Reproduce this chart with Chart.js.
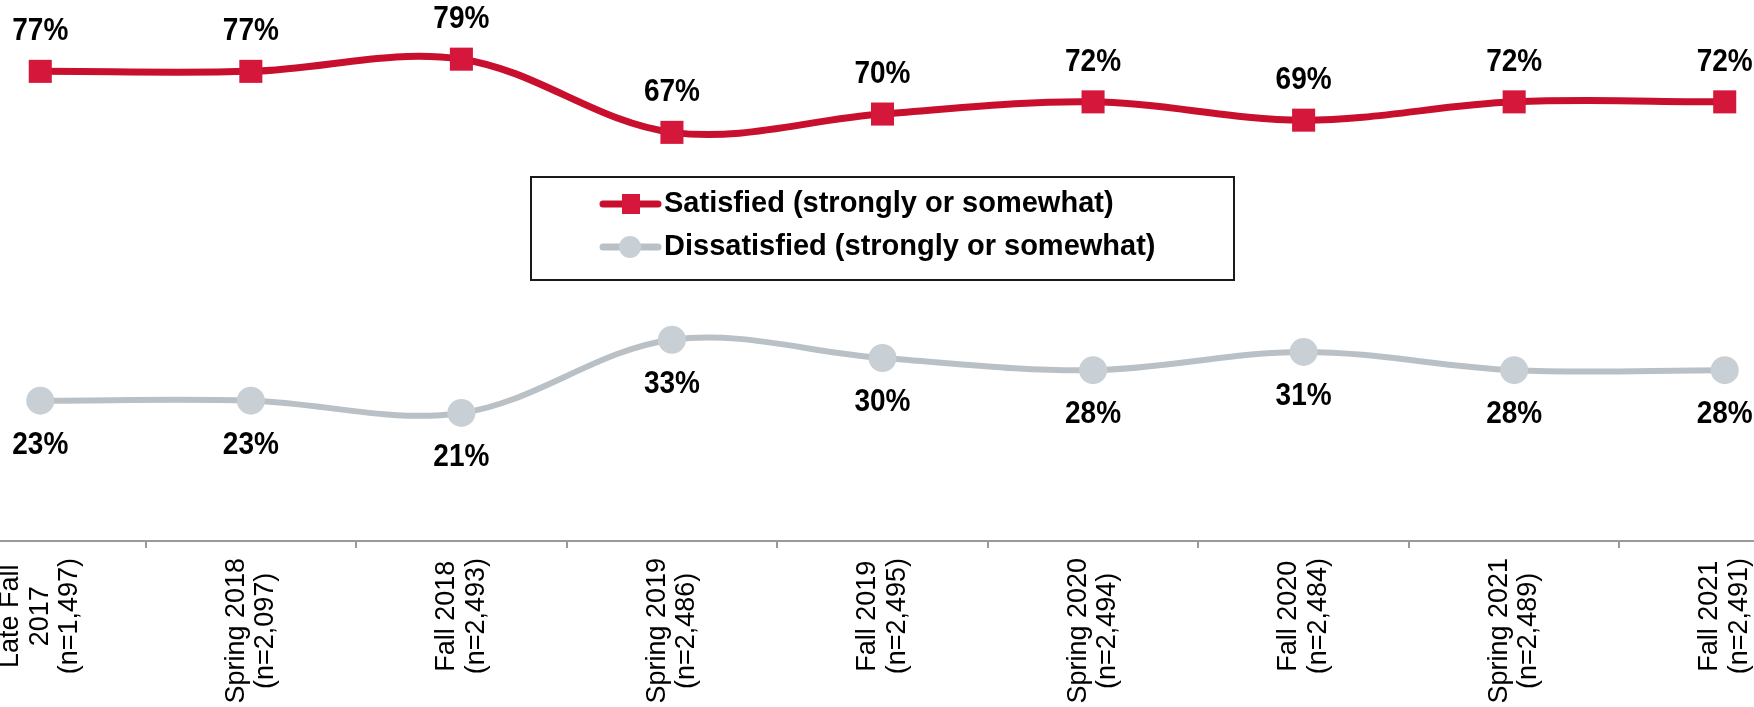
<!DOCTYPE html>
<html>
<head>
<meta charset="utf-8">
<script src="https://cdn.jsdelivr.net/npm/chart.js@4.4.0/dist/chart.umd.min.js"></script>
<style>
  html, body { margin: 0; padding: 0; background: #fff; overflow: hidden; }
  #wrap { position: relative; width: 1754px; height: 707px; overflow: hidden; }
  /* the first and last categories are cut by the frame, so the canvas is wider than the page */
  #surveyChart { position: absolute; left: -65px; top: 0; }
</style>
</head>
<body>
<div id="wrap"><canvas id="surveyChart" width="1895" height="707"></canvas></div>
<script>
// Survey waves (x categories)
const waves = [
    ['Late Fall', '2017', '(n=1,497)'],
    ['Spring 2018', '(n=2,097)'],
    ['Fall 2018', '(n=2,493)'],
    ['Spring 2019', '(n=2,486)'],
    ['Fall 2019', '(n=2,495)'],
    ['Spring 2020', '(n=2,494)'],
    ['Fall 2020', '(n=2,484)'],
    ['Spring 2021', '(n=2,489)'],
    ['Fall 2021', '(n=2,491)']
];
const satisfied = [77, 77, 79, 67, 70, 72, 69, 72, 72];
const dissatisfied = [23, 23, 21, 33, 30, 28, 31, 28, 28];
const seriesNames = ['Satisfied (strongly or somewhat)', 'Dissatisfied (strongly or somewhat)'];

const FONT = '"Liberation Sans", Arial, Helvetica, sans-serif';

// Percent labels above (satisfied) / below (dissatisfied) each point
const pointLabels = {
    id: 'pointLabels',
    afterDatasetsDraw(chart) {
        const ctx = chart.ctx;
        chart.data.datasets.forEach((ds, i) => {
            const meta = chart.getDatasetMeta(i);
            const dy = i === 0 ? -40 : 44;
            meta.data.forEach((pt, j) => {
                ctx.save();
                ctx.translate(pt.x, pt.y + dy);
                ctx.scale(1, 1.15);
                ctx.font = 'bold 28px ' + FONT;
                ctx.fillStyle = '#000';
                ctx.textAlign = 'center';
                ctx.textBaseline = 'middle';
                ctx.fillText(ds.data[j] + '%', 0, 0);
                ctx.restore();
            });
        });
    }
};

// Rotated category labels, lines centred on each other
const waveLabels = {
    id: 'waveLabels',
    afterDraw(chart) {
        const xs = chart.scales.x;
        const ctx = chart.ctx;
        ctx.save();
        ctx.font = '27px ' + FONT;
        ctx.fillStyle = '#000';
        ctx.textAlign = 'center';
        ctx.textBaseline = 'middle';
        waves.forEach((lines, i) => {
            const x = xs.getPixelForTick(i);
            const w = Math.max(...lines.map(l => ctx.measureText(l).width));
            ctx.save();
            ctx.translate(x, xs.top + 17 + w / 2);
            ctx.rotate(-Math.PI / 2);
            lines.forEach((l, k) => {
                ctx.fillText(l, 0, (k - (lines.length - 1) / 2) * 29.5);
            });
            ctx.restore();
        });
        ctx.restore();
    }
};

// Boxed legend in the middle of the plot
const boxLegend = {
    id: 'boxLegend',
    afterDraw(chart) {
        const ctx = chart.ctx;
        const w = 703, h = 103;
        const left = (chart.width - w) / 2, top = 177;
        ctx.save();
        ctx.lineWidth = 2;
        ctx.strokeStyle = '#1a1a1a';
        ctx.strokeRect(left, top, w, h);
        chart.data.datasets.forEach((ds, i) => {
            const y = top + 27 + i * 43;
            ctx.strokeStyle = ds.borderColor;
            ctx.lineWidth = 7;
            ctx.lineCap = 'round';
            ctx.beginPath();
            ctx.moveTo(left + 72, y);
            ctx.lineTo(left + 127, y);
            ctx.stroke();
            ctx.fillStyle = ds.pointBackgroundColor;
            if (i === 0) {
                ctx.fillRect(left + 91, y - 10, 18, 20);
            } else {
                ctx.beginPath();
                ctx.arc(left + 99, y, 11, 0, Math.PI * 2);
                ctx.fill();
            }
            ctx.fillStyle = '#000';
            ctx.font = 'bold 29px ' + FONT;
            ctx.textAlign = 'left';
            ctx.textBaseline = 'middle';
            ctx.fillText(ds.label, left + 133, y);
        });
        ctx.restore();
    }
};

const ctxSurvey = document.getElementById('surveyChart').getContext('2d');
const surveyChart = new Chart(ctxSurvey, {
    type: 'line',
    data: {
        labels: waves,
        datasets: [{
            label: seriesNames[0],
            data: satisfied,
            borderColor: '#C8102E',
            borderWidth: 7,
            tension: 0.35,
            pointStyle: 'rect',
            pointRadius: 16.3,
            pointBorderWidth: 0,
            pointBackgroundColor: '#D5173B'
        }, {
            label: seriesNames[1],
            data: dissatisfied,
            borderColor: '#B9C1C7',
            borderWidth: 6,
            tension: 0.35,
            pointStyle: 'circle',
            pointRadius: 14,
            pointBorderWidth: 0,
            pointBackgroundColor: '#C8D0D6'
        }]
    },
    options: {
        responsive: false,
        animation: false,
        layout: { padding: 0, autoPadding: false },
        plugins: {
            legend: { display: false },
            tooltip: { enabled: false }
        },
        scales: {
            x: {
                offset: true,
                grid: {
                    offset: true,
                    drawOnChartArea: false,
                    color: '#9a9a9a',
                    lineWidth: 2,
                    tickLength: 7
                },
                border: { color: '#9a9a9a', width: 2 },
                ticks: { display: false },
                afterFit(scale) { scale.height = 166; }
            },
            y: {
                display: false,
                min: 0,
                max: 88.7
            }
        }
    },
    plugins: [pointLabels, waveLabels, boxLegend]
});
</script>
</body>
</html>
